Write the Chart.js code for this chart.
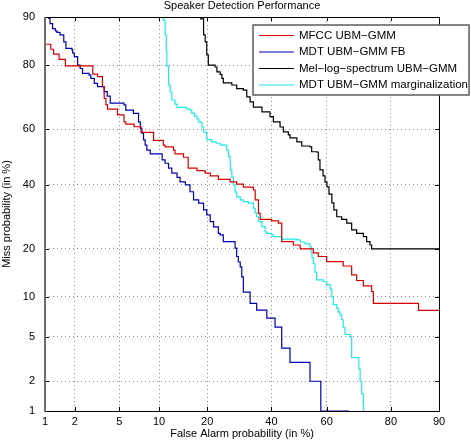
<!DOCTYPE html>
<html>
<head>
<meta charset="utf-8">
<script src="https://cdn.jsdelivr.net/npm/chart.js@4.4.0/dist/chart.umd.min.js"></script>
<style>
html, body { margin: 0; padding: 0; background: #fff; }
</style>
</head>
<body>
<canvas id="det" width="471" height="442"></canvas>
<script>
'use strict';

// tick marks on both DET axes (in %)
var tickValues = [1, 2, 5, 10, 20, 40, 60, 80, 90];

var seriesNames = [
    'MFCC UBM\u2212GMM',
    'MDT UBM\u2212GMM FB',
    'Mel\u2212log\u2212spectrum UBM\u2212GMM',
    'MDT UBM\u2212GMM marginalization'
];
var seriesColors = ['#d40000', '#0000b4', '#000000', '#1ee8e8'];

// false alarm / miss probability (%) at each step of the curves
var mfccFa = [0.9, 1.15, 1.23, 1.40, 1.62, 2.95, 3.25, 3.59, 3.72, 3.85, 3.98, 4.82, 5.45, 5.63, 6.55, 7.39, 9.14, 10.7, 11.0, 12.5, 12.8, 14.5, 15.5, 17.5, 19.5, 20.8, 23.0, 26.4, 28.4, 30.5, 33.8, 34.4, 35.5, 36.1, 40.1, 42.5, 43.7, 47.9, 50.4, 55.2, 57.0, 60.0, 65.7, 68.5, 70.1, 72.2, 74.7, 75.2, 86.3, 92];
var mfccMiss = [84.9, 83.8, 82.7, 81.4, 79.8, 77.6, 76.9, 74.0, 70.4, 68.3, 66.9, 65.0, 62.6, 61.8, 60.9, 58.9, 56.0, 54.3, 53.7, 52.5, 51.1, 49.9, 45.9, 45.0, 44.1, 43.1, 41.9, 41.0, 40.2, 39.1, 38.1, 34.7, 30.3, 28.4, 27.9, 27.2, 21.9, 21.0, 20.0, 19.0, 18.1, 16.9, 15.9, 14.0, 12.9, 11.9, 10.9, 9.0, 8.0, 8.0];

var fbFa = [1.06, 1.09, 1.13, 1.20, 1.28, 1.33, 1.43, 1.56, 1.64, 1.88, 1.91, 1.98, 2.13, 2.25, 2.37, 2.73, 2.83, 3.04, 3.25, 3.72, 3.95, 4.19, 5.45, 5.63, 6.47, 7.08, 7.30, 7.51, 7.72, 7.94, 8.17, 8.65, 10.5, 11.0, 11.6, 12.2, 13.2, 13.8, 14.9, 15.9, 16.7, 17.9, 19.1, 19.9, 20.8, 21.7, 23.0, 23.5, 24.4, 27.9, 28.4, 28.9, 29.5, 30.0, 30.5, 32.7, 34.9, 38.4, 41.3, 43.7, 46.7, 54.0, 57.9, 67.4];
var fbMiss = [91, 89.8, 88.9, 88.0, 87.6, 87.3, 86.8, 85.4, 84.0, 83.6, 82.9, 82.1, 80.0, 79.1, 77.8, 77.3, 76.4, 75.0, 74.0, 72.5, 71.1, 68.9, 68.3, 66.6, 65.5, 62.6, 60.3, 58.6, 56.2, 54.3, 52.5, 51.1, 48.9, 47.7, 45.9, 44.1, 42.6, 41.0, 39.9, 37.5, 34.7, 33.6, 31.4, 29.8, 27.7, 26.1, 24.2, 23.8, 21.9, 20.2, 18.1, 16.8, 15.7, 13.6, 10.8, 9.0, 8.05, 7.0, 5.95, 4.0, 3.0, 2.0, 1.0, 0.9];

var melFa = [18.2, 19.1, 19.1, 19.5, 19.9, 20.3, 22.1, 22.6, 23.5, 24.0, 24.4, 26.9, 28.4, 30.5, 31.6, 32.7, 33.8, 36.7, 39.5, 40.7, 43.1, 44.3, 46.1, 46.7, 49.2, 51.0, 54.0, 54.6, 56.4, 57.0, 57.6, 58.7, 59.4, 60.1, 60.8, 61.8, 62.5, 63.5, 65.2, 66.9, 68.5, 70.1, 72.2, 73.2, 74.2, 74.7, 92];
var melMiss = [89.7, 89.5, 86.8, 85.4, 82.5, 80.0, 79.5, 78.2, 77.5, 76.4, 75.1, 74.5, 73.4, 73.0, 70.9, 69.3, 67.6, 66.0, 64.4, 62.6, 60.8, 59.1, 58.0, 56.9, 55.5, 54.0, 53.7, 51.9, 51.8, 48.9, 45.3, 43.1, 40.9, 39.2, 36.7, 33.7, 31.4, 29.2, 28.4, 27.2, 25.2, 24.2, 23.3, 21.9, 21.0, 20.0, 20.0];

var margFa = [10.6, 10.7, 11.0, 11.2, 11.3, 11.6, 11.9, 12.2, 12.8, 13.2, 15.2, 15.9, 16.3, 16.9, 17.5, 17.9, 18.7, 19.1, 19.9, 21.2, 22.4, 23.5, 25.4, 25.9, 26.4, 26.5, 26.9, 27.4, 27.9, 28.4, 29.5, 30.5, 32.1, 33.8, 34.4, 34.9, 35.5, 36.7, 37.8, 38.4, 40.1, 40.7, 43.7, 49.2, 50.4, 52.2, 54.0, 54.4, 54.7, 55.2, 55.8, 56.4, 58.8, 60.0, 61.2, 61.8, 62.3, 63.5, 64.0, 64.6, 65.2, 65.7, 66.3, 68.0, 68.5, 70.8, 71.2, 71.7, 72.2, 72.3];
var margMiss = [91, 89.5, 86.8, 83.6, 79.7, 74.5, 72.4, 69.9, 68.6, 67.5, 66.9, 66.6, 65.6, 64.6, 63.6, 62.5, 60.8, 59.0, 56.3, 55.5, 55.0, 54.3, 52.5, 50.1, 47.4, 45.3, 42.7, 39.9, 37.4, 35.7, 34.7, 34.1, 33.6, 31.9, 30.4, 29.2, 27.7, 26.2, 24.6, 24.2, 23.8, 23.3, 22.6, 22.4, 21.8, 21.3, 20.6, 19.2, 17.8, 16.4, 14.6, 13.0, 12.7, 12.1, 11.3, 10.0, 8.8, 8.3, 7.8, 7.4, 6.8, 5.9, 5.2, 5.0, 3.3, 2.6, 2.0, 1.5, 1.15, 0.9];

var seriesFa = [mfccFa, fbFa, melFa, margFa];
var seriesMiss = [mfccMiss, fbMiss, melMiss, margMiss];

// inverse normal cdf (Acklam), argument in percent
function probit(pct) {
    var p = Math.min(Math.max(pct / 100, 1e-6), 1 - 1e-6);
    var a = [-39.69683028665376, 220.9460984245205, -275.9285104469687, 138.3577518672690, -30.66479806614716, 2.506628277459239];
    var b = [-54.47609879822406, 161.5858368580409, -155.6989798598866, 66.80131188771972, -13.28068155288572];
    var c = [-0.007784894002430293, -0.3223964580411365, -2.400758277161838, -2.549732539343734, 4.374664141464968, 2.938163982698783];
    var d = [0.007784695709041462, 0.3224671290700398, 2.445134137142996, 3.754408661907416];
    var q, r;
    if (p < 0.02425) {
        q = Math.sqrt(-2 * Math.log(p));
        return (((((c[0] * q + c[1]) * q + c[2]) * q + c[3]) * q + c[4]) * q + c[5]) /
            ((((d[0] * q + d[1]) * q + d[2]) * q + d[3]) * q + 1);
    }
    if (p > 1 - 0.02425) {
        q = Math.sqrt(-2 * Math.log(1 - p));
        return -(((((c[0] * q + c[1]) * q + c[2]) * q + c[3]) * q + c[4]) * q + c[5]) /
            ((((d[0] * q + d[1]) * q + d[2]) * q + d[3]) * q + 1);
    }
    q = p - 0.5;
    r = q * q;
    return (((((a[0] * r + a[1]) * r + a[2]) * r + a[3]) * r + a[4]) * r + a[5]) * q /
        (((((b[0] * r + b[1]) * r + b[2]) * r + b[3]) * r + b[4]) * r + 1);
}

function normCdf(z) {
    var t = 1 / (1 + 0.3275911 * Math.abs(z) / Math.SQRT2);
    var e = 1 - (((((1.061405429 * t - 1.453152027) * t) + 1.421413741) * t - 0.284496736) * t + 0.254829592) * t * Math.exp(-z * z / 2);
    return z >= 0 ? (1 + e) / 2 : (1 - e) / 2;
}

// normal deviate scale, as used on DET plots
class ProbitScale extends Chart.Scale {
    determineDataLimits() {
        this.min = this.options.min;
        this.max = this.options.max;
    }
    buildTicks() {
        return tickValues.map(function (v) { return { value: v }; });
    }
    getLabelForValue(v) {
        return String(v);
    }
    configure() {
        super.configure();
        this._zStart = probit(this.min);
        this._zRange = probit(this.max) - this._zStart;
    }
    getPixelForValue(v) {
        return this.getPixelForDecimal((probit(v) - this._zStart) / this._zRange);
    }
    getValueForPixel(px) {
        return 100 * normCdf(this._zStart + this.getDecimalForPixel(px) * this._zRange);
    }
}
ProbitScale.id = 'probit';
ProbitScale.defaults = {};
Chart.register(ProbitScale);

Chart.defaults.font.family = '"Liberation Sans", Arial, sans-serif';
Chart.defaults.color = '#000';

// box, inward ticks and the matlab style legend
var detFrame = {
    id: 'detFrame',
    afterDraw: function (chart) {
        var ctx = chart.ctx, a = chart.chartArea;
        var xs = chart.scales.x, ys = chart.scales.y;
        ctx.save();
        ctx.strokeStyle = '#000';
        ctx.lineWidth = 1;
        ctx.beginPath();
        tickValues.forEach(function (v) {
            var px = Math.round(xs.getPixelForValue(v)) + 0.5;
            var py = Math.round(ys.getPixelForValue(v)) + 0.5;
            ctx.moveTo(px, a.bottom); ctx.lineTo(px, a.bottom - 4);
            ctx.moveTo(px, a.top); ctx.lineTo(px, a.top + 4);
            ctx.moveTo(a.left, py); ctx.lineTo(a.left + 4, py);
            ctx.moveTo(a.right, py); ctx.lineTo(a.right - 4, py);
        });
        ctx.moveTo(a.left, a.top + 0.5); ctx.lineTo(a.right + 0.5, a.top + 0.5);
        ctx.lineTo(a.right + 0.5, a.bottom + 0.5); ctx.lineTo(a.left, a.bottom + 0.5);
        ctx.stroke();
        ctx.strokeStyle = '#6e6e6e';
        ctx.lineWidth = 2;
        ctx.beginPath();
        ctx.moveTo(a.left, a.top); ctx.lineTo(a.left, a.bottom + 1);
        ctx.stroke();

        var bx = 253, by = 25, bw = 216, bh = 70;
        ctx.fillStyle = '#fff';
        ctx.fillRect(bx, by, bw, bh);
        ctx.strokeStyle = '#5c5c5c';
        ctx.lineWidth = 1.5;
        ctx.strokeRect(bx, by, bw, bh);
        ctx.font = '11.5px "Liberation Sans", Arial, sans-serif';
        ctx.textBaseline = 'middle';
        ctx.textAlign = 'left';
        chart.data.datasets.forEach(function (ds, i) {
            var ry = by + 10.5 + i * 16.5;
            ctx.strokeStyle = ds.borderColor;
            ctx.lineWidth = 1.2;
            ctx.beginPath();
            ctx.moveTo(bx + 6, ry); ctx.lineTo(bx + 41, ry);
            ctx.stroke();
            ctx.fillStyle = '#000';
            ctx.fillText(ds.label, bx + 46, ry);
        });
        ctx.restore();
    }
};

var datasets = seriesNames.map(function (name, i) {
    return {
        label: name,
        data: seriesFa[i].map(function (fa, j) { return { x: fa, y: seriesMiss[i][j] }; }),
        borderColor: seriesColors[i],
        borderWidth: 1.2,
        pointRadius: 0,
        fill: false,
        stepped: true
    };
});

new Chart(document.getElementById('det'), {
    type: 'line',
    data: { datasets: datasets },
    options: {
        responsive: false,
        animation: false,
        events: [],
        layout: { padding: { left: 0, right: 32, top: 0, bottom: 0 } },
        plugins: {
            legend: { display: false },
            tooltip: { enabled: false },
            title: {
                display: true,
                text: 'Speaker Detection Performance',
                fullSize: false,
                color: '#000',
                font: { size: 11, weight: 'normal', lineHeight: 1 },
                padding: { top: 0, bottom: 6 }
            }
        },
        scales: {
            x: {
                type: 'probit',
                position: 'bottom',
                min: 1,
                max: 90,
                grid: { color: '#8a8a8a', drawTicks: false },
                border: { display: false, dash: [1, 3] },
                ticks: { font: { size: 11 }, padding: 4, maxRotation: 0, autoSkip: false },
                title: {
                    display: true,
                    text: 'False Alarm probability (in %)',
                    font: { size: 11 },
                    padding: { top: 0, bottom: 1 }
                },
                afterFit: function (s) { s.height = 31; }
            },
            y: {
                type: 'probit',
                position: 'left',
                min: 1,
                max: 90,
                grid: { color: '#8a8a8a', drawTicks: false },
                border: { display: false, dash: [1, 3] },
                ticks: { font: { size: 11 }, padding: 10, autoSkip: false },
                title: {
                    display: true,
                    text: 'Miss probability (in %)',
                    font: { size: 11 },
                    padding: { top: 0, bottom: 0 }
                },
                afterFit: function (s) { s.width = 45; }
            }
        }
    },
    plugins: [detFrame]
});
</script>
</body>
</html>
